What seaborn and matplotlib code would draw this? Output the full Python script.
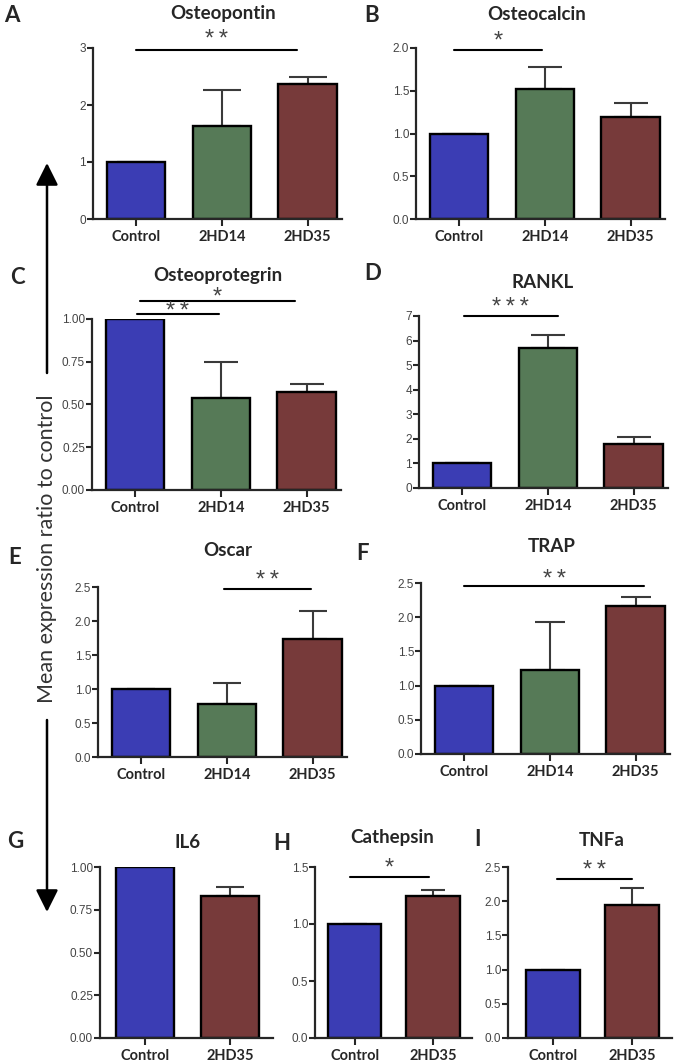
import numpy as np
import matplotlib.pyplot as plt
import seaborn as sns
from matplotlib.patches import FancyArrowPatch

sns.set_style("ticks")
plt.rcParams["font.family"] = ["Lato", "DejaVu Sans"]

# ---- data ----
groups3 = ["Control", "2HD14", "2HD35"]
groups2 = ["Control", "2HD35"]

osteopontin_mean = [1.0, 1.63, 2.36]
osteopontin_err = [0, 0.63, 0.14]
osteocalcin_mean = [1.0, 1.52, 1.19]
osteocalcin_err = [0, 0.26, 0.17]
osteoprotegrin_mean = [1.0, 0.54, 0.574]
osteoprotegrin_err = [0, 0.206, 0.045]
rankl_mean = [1.0, 5.68, 1.81]
rankl_err = [0, 0.55, 0.27]
oscar_mean = [1.0, 0.775, 1.735]
oscar_err = [0, 0.313, 0.415]
trap_mean = [1.0, 1.223, 2.159]
trap_err = [0, 0.70, 0.14]
il6_mean = [1.0, 0.828]
il6_err = [0, 0.055]
cathepsin_mean = [1.0, 1.244]
cathepsin_err = [0, 0.058]
tnfa_mean = [1.0, 1.949]
tnfa_err = [0, 0.249]

# significance bars: (x start, x end, y, stars)
osteopontin_sig = [(0, 1.88, 2.97, "**")]
osteocalcin_sig = [(-0.06, 0.97, 1.98, "*")]
osteoprotegrin_sig = [(0.06, 1.86, 1.103, "*"), (0.02, 0.98, 1.029, "**")]
rankl_sig = [(0.02, 1.12, 6.98, "***")]
oscar_sig = [(0.97, 1.98, 2.466, "**")]
trap_sig = [(0, 2.10, 2.45, "**")]
il6_sig = []
cathepsin_sig = [(-0.06, 0.95, 1.413, "*")]
tnfa_sig = [(0.05, 1.0, 2.32, "**")]

colors = {"Control": "#3b3db4", "2HD14": "#567a57", "2HD35": "#773a3a"}

W, H = 685, 1062
fig = plt.figure(figsize=(W / 100, H / 100), dpi=100)


def px_rect(l, t, r, b):
    return [l / W, 1 - b / H, (r - l) / W, (b - t) / H]


def panel(rect, groups, means, errs, ymax, ystep, fmt, xlim, sigs, capsize, star_off):
    ax = fig.add_axes(px_rect(*rect))
    sns.barplot(x=groups, y=means, hue=groups, palette=colors, legend=False,
                width=0.68, edgecolor="black", linewidth=1.7, saturation=1,
                ax=ax, zorder=2)
    ax.errorbar(range(len(groups)), means, yerr=[np.zeros(len(errs)), errs],
                fmt="none", ecolor="#3a3a3a", elinewidth=1.5, capsize=capsize,
                capthick=1.5, zorder=1)
    ticks = np.arange(0, ymax + ystep / 2, ystep)
    ax.set_yticks(ticks, labels=[fmt % t for t in ticks],
                  fontfamily="Liberation Sans", fontsize=8.5, color="#444444")
    ax.set_xticks(range(len(groups)), labels=groups, fontweight="bold", fontsize=10.5)
    ax.set_ylim(0, ymax)
    ax.set_xlim(*xlim)
    ax.set_xlabel("")
    ax.set_ylabel("")
    sns.despine(ax=ax)
    for s in ["left", "bottom"]:
        ax.spines[s].set_linewidth(1.6)
    ax.tick_params(axis="y", length=4, width=1.5, pad=1)
    ax.tick_params(axis="x", length=5, width=1.5, pad=3)
    for (x0, x1, y, lab), off in zip(sigs, star_off):
        ax.plot([x0, x1], [y, y], color="black", lw=1.5, clip_on=False)
        ax.annotate("\u2009".join(lab), xy=((x0 + x1) / 2, y), xytext=(0, off),
                    textcoords="offset points", ha="center", va="center",
                    fontsize=17, color="#444444", fontfamily="Liberation Sans",
                    annotation_clip=False)
    return ax


panel((93, 48, 342, 219), groups3, osteopontin_mean, osteopontin_err, 3, 1, "%d",
      (-0.5, 2.4), osteopontin_sig, 14, [7])
panel((416, 48, 665, 219), groups3, osteocalcin_mean, osteocalcin_err, 2.0, 0.5, "%.1f",
      (-0.5, 2.4), osteocalcin_sig, 12, [6])
panel((92, 319, 341, 490), groups3, osteoprotegrin_mean, osteoprotegrin_err, 1.0, 0.25, "%.2f",
      (-0.5, 2.4), osteoprotegrin_sig, 12, [3, 1.5])
panel((419, 316, 668, 488), groups3, rankl_mean, rankl_err, 7, 1, "%d",
      (-0.5, 2.4), rankl_sig, 12, [6])
panel((98, 587, 347, 757), groups3, oscar_mean, oscar_err, 2.5, 0.5, "%.1f",
      (-0.5, 2.4), oscar_sig, 10, [6])
panel((421, 583, 670, 754), groups3, trap_mean, trap_err, 2.5, 0.5, "%.1f",
      (-0.5, 2.4), trap_sig, 11, [4.5])
panel((100, 867, 273, 1038), groups2, il6_mean, il6_err, 1.0, 0.25, "%.2f",
      (-0.53, 1.5), il6_sig, 10, [])
panel((315, 867, 472, 1038), groups2, cathepsin_mean, cathepsin_err, 1.5, 0.5, "%.1f",
      (-0.51, 1.5), cathepsin_sig, 8.5, [6])
panel((508, 867, 672, 1038), groups2, tnfa_mean, tnfa_err, 2.5, 0.5, "%.1f",
      (-0.57, 1.5), tnfa_sig, 8.5, [6])

# titles and panel letters
titles = [("Osteopontin", 223, 13), ("Osteocalcin", 537, 15), ("Osteoprotegrin", 218, 276),
          ("RANKL", 543, 282), ("Oscar", 228, 550), ("TRAP", 552, 547),
          ("IL6", 188, 843), ("Cathepsin", 392, 838), ("TNFa", 602, 840)]
for t, x, y in titles:
    fig.text(x / W, 1 - y / H, t, ha="center", va="center", fontsize=13.5, fontweight="bold")

letters = [("A", 12, 15), ("B", 372, 15), ("C", 17, 277), ("D", 373, 273), ("E", 15, 558),
           ("F", 363, 553), ("G", 15, 842), ("H", 282, 843), ("I", 477, 840)]
for t, x, y in letters:
    fig.text(x / W, 1 - y / H, t, ha="center", va="center", fontsize=16, fontweight="bold")

# shared y label with arrows
fig.text(47 / W, 1 - 549 / H, "Mean expression ratio to control", rotation=90,
         ha="center", va="center", fontsize=15.5, color="#333333")
for y0, y1 in [(373, 163), (720, 912)]:
    fig.add_artist(FancyArrowPatch((47 / W, 1 - y0 / H), (47 / W, 1 - y1 / H),
                                   transform=fig.transFigure,
                                   arrowstyle="-|>,head_length=0.9,head_width=0.45",
                                   mutation_scale=15, lw=1.8, color="black",
                                   shrinkA=0, shrinkB=0))

fig.savefig("out.png", dpi=100)
